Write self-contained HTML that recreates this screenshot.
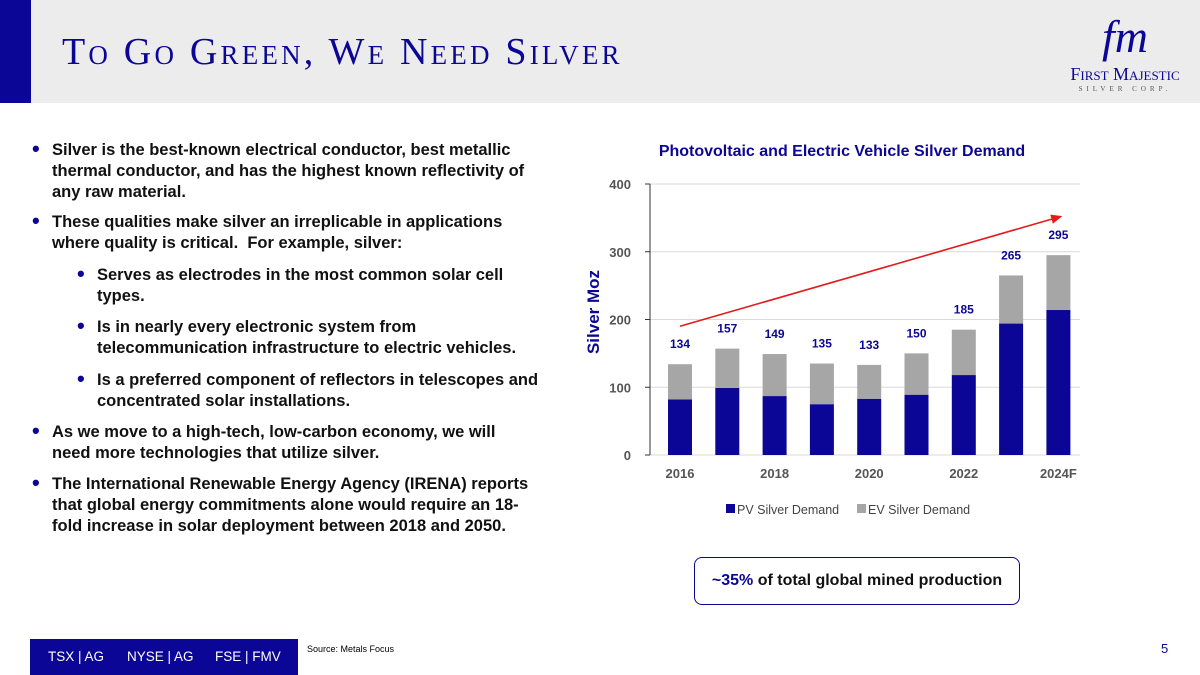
<!DOCTYPE html>
<html><head><meta charset="utf-8"><style>
body{margin:0;width:1200px;height:675px;position:relative;background:#fff;font-family:"Liberation Sans",sans-serif;overflow:hidden}
.hdr{position:absolute;left:0;top:0;width:1200px;height:103px;background:#ececec}
.lbar{position:absolute;left:0;top:0;width:31px;height:103px;background:#0c0696}
.title{position:absolute;left:62px;top:30px;font-family:"Liberation Serif",serif;font-size:38px;color:#0c0696;font-variant:small-caps;letter-spacing:3.2px}
.bul{position:absolute;font-weight:bold;font-size:16.5px;color:#111;line-height:21px}
.bul:before{content:"•";position:absolute;left:-20px;top:-2px;font-size:22px;color:#0c0696}
.foot{position:absolute;left:30px;top:639px;width:268px;height:36px;background:#0c0696;color:#fff;font-size:13.5px;line-height:36px}
</style></head><body>
<div class="hdr"></div>
<div class="lbar"></div>
<div class="title">To Go Green, We Need Silver</div>
<div style="position:absolute;left:1060px;top:14px;width:130px;text-align:center;color:#0c0696">
<div style="font-family:'Liberation Serif',serif;font-style:italic;font-size:46px;line-height:46px">fm</div>
<div style="font-family:'Liberation Serif',serif;font-size:18px;font-variant:small-caps;margin-top:4px">First Majestic</div>
<div style="font-family:'Liberation Serif',serif;font-size:7px;letter-spacing:4px;color:#555">SILVER CORP.</div></div>
<div class="bul" style="left:52px;top:140px;width:480px">Silver is the best-known electrical conductor, best metallic thermal conductor, and has the highest known reflectivity of any raw material.</div>
<div class="bul" style="left:52px;top:212px;width:470px">These qualities make silver an irreplicable in applications where quality is critical.&nbsp; For example, silver:</div>
<div class="bul" style="left:97px;top:265px;width:420px">Serves as electrodes in the most common solar cell types.</div>
<div class="bul" style="left:97px;top:317px;width:440px">Is in nearly every electronic system from telecommunication infrastructure to electric vehicles.</div>
<div class="bul" style="left:97px;top:370px;width:450px">Is a preferred component of reflectors in telescopes and concentrated solar installations.</div>
<div class="bul" style="left:52px;top:422px;width:460px">As we move to a high-tech, low-carbon economy, we will need more technologies that utilize silver.</div>
<div class="bul" style="left:52px;top:474px;width:480px">The International Renewable Energy Agency (IRENA) reports that global energy commitments alone would require an 18-fold increase in solar deployment between 2018 and 2050.</div>
<svg id="chart" width="1200" height="675" style="position:absolute;left:0;top:0">
<defs><marker id="ah" markerWidth="8" markerHeight="8" refX="6" refY="3" orient="auto"><path d="M0,0L7,3L0,6Z" fill="#e51b1b"/></marker></defs>
</svg>
<div style="position:absolute;left:694px;top:557px;width:324px;height:46px;border:1.5px solid #0c0696;border-radius:8px;text-align:center;line-height:46px;font-weight:bold;font-size:16px;color:#111"><span style="color:#0c0696">~35%</span> of total global mined production</div>
<div style="position:absolute;left:307px;top:644px;font-size:9px">Source: Metals Focus</div>
<div style="position:absolute;left:1161px;top:641px;font-size:13px;color:#0c0696">5</div>
<div class="foot"><span style="position:absolute;left:18px">TSX | AG</span><span style="position:absolute;left:97px">NYSE | AG</span><span style="position:absolute;left:185px">FSE | FMV</span></div>
<script>
const categories=["2016","2017","2018","2019","2020","2021","2022","2023","2024F"];
const pvDemand=[82,99,87,75,83,89,118,194,214];
const totalDemand=[134,157,149,135,133,150,185,265,295];
const yTicks=[0,100,200,300,400];
const xTickLabels=["2016","","2018","","2020","","2022","","2024F"];
const trendStart=190, trendEnd=352;
const svg=document.getElementById('chart');const NS='http://www.w3.org/2000/svg';
function x(i){return 680+i*47.3;}
function y(v){return 455-v*0.6775;}
function mk(t,a,txt){const e=document.createElementNS(NS,t);for(const k in a)e.setAttribute(k,a[k]);if(txt!==undefined)e.textContent=txt;svg.appendChild(e);return e;}
let e=mk('text',{x:842,y:156,'text-anchor':'middle','font-size':16,'font-weight':'bold',fill:'#0c0696'},'Photovoltaic and Electric Vehicle Silver Demand');


yTicks.forEach(t=>{
 const g=mk('line',{x1:650,x2:1080,y1:y(t),y2:y(t),stroke:'#d9d9d9','stroke-width':1});
 
 
 const l=mk('text',{x:631,y:y(t)+5,'text-anchor':'end','font-size':13,'font-weight':'bold',fill:'#555'},t);
 
 
 mk('line',{x1:645,x2:650,y1:y(t),y2:y(t),stroke:'#333'});
});
mk('line',{x1:650,x2:650,y1:y(400),y2:y(0),stroke:'#333','stroke-width':1});
e=mk('text',{transform:'translate(599,312) rotate(-90)','text-anchor':'middle','font-size':17,'font-weight':'bold',fill:'#0c0696'},'Silver Moz');


categories.forEach((c,i)=>{
 const b=mk('rect',{x:x(i)-12,y:y(pvDemand[i]),width:24,height:y(0)-y(pvDemand[i]),fill:'#0c0696'});
 
 
 const r=mk('rect',{x:x(i)-12,y:y(totalDemand[i]),width:24,height:y(pvDemand[i])-y(totalDemand[i]),fill:'#a6a6a6'});
 
 
 const t=mk('text',{x:x(i),y:y(totalDemand[i])-16,'text-anchor':'middle','font-size':12,'font-weight':'bold',fill:'#0c0696'},totalDemand[i]);
 
 
 if(xTickLabels[i]){const xl=mk('text',{x:x(i),y:478,'text-anchor':'middle','font-size':13,'font-weight':'bold',fill:'#555'},xTickLabels[i]);
 
 }
});
e=mk('line',{x1:x(0),y1:y(trendStart),x2:x(8.05),y2:y(trendEnd),stroke:'#e51b1b','stroke-width':1.6,'marker-end':'url(#ah)'});


e=mk('rect',{x:726,y:504,width:9,height:9,fill:'#0c0696'});


e=mk('text',{x:737,y:514,'font-size':12.5,fill:'#444'},'PV Silver Demand');


e=mk('rect',{x:857,y:504,width:9,height:9,fill:'#a6a6a6'});


e=mk('text',{x:868,y:514,'font-size':12.5,fill:'#444'},'EV Silver Demand');


</script>
</body></html>
